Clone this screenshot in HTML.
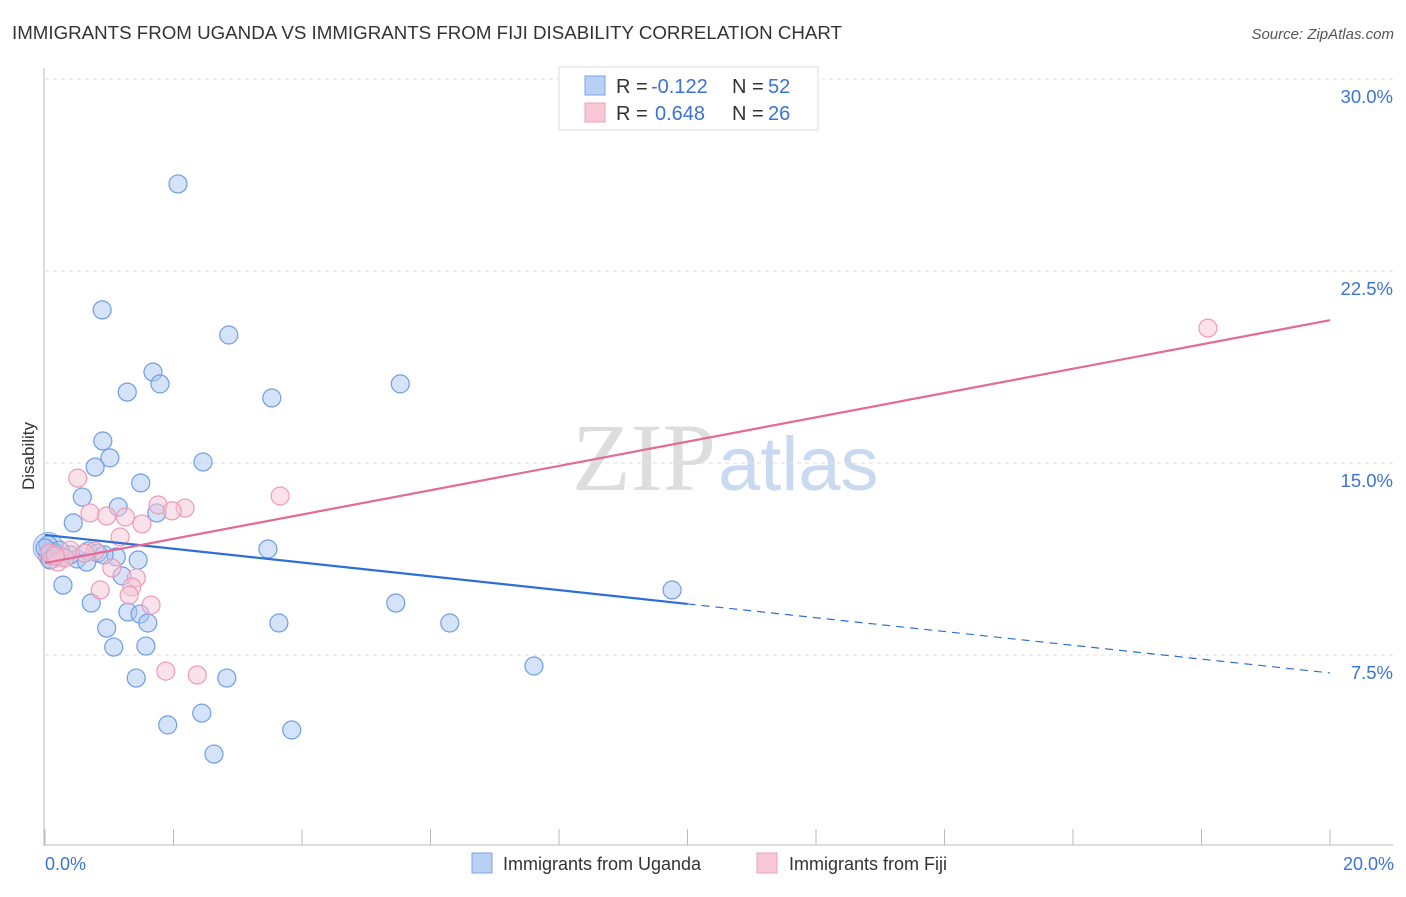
<!DOCTYPE html><html><head><meta charset="utf-8"><style>
body{margin:0;background:#fff;font-family:"Liberation Sans",sans-serif}
</style></head><body>
<svg id="c" width="1406" height="892" xmlns="http://www.w3.org/2000/svg">
<text x="12" y="39" font-size="18" fill="#333" textLength="830" lengthAdjust="spacingAndGlyphs">IMMIGRANTS FROM UGANDA VS IMMIGRANTS FROM FIJI DISABILITY CORRELATION CHART</text>
<text x="1394" y="39" font-size="15" fill="#555" font-style="italic" text-anchor="end">Source: ZipAtlas.com</text>
<text x="716" y="490" font-size="96" fill="#ddd" text-anchor="end" font-family="Liberation Serif">ZIP</text>
<text x="718" y="490" font-size="76" fill="#c9d9f0">atlas</text>
<g id="grid"></g><g id="axes"></g><g id="pts"></g><g id="lines"></g>
<text transform="translate(34,456) rotate(-90)" font-size="17" fill="#333" text-anchor="middle">Disability</text>
<text x="45" y="870" font-size="18" fill="#3b73d4">0.0%</text>
<text x="1394" y="870" font-size="18" fill="#3b73d4" text-anchor="end">20.0%</text>
<g>
<rect x="559" y="67" width="259" height="63" fill="#fff" stroke="#ddd"/>
<rect x="585" y="76" width="20" height="19" fill="#b8d0f4" stroke="#7aa3e6"/>
<rect x="585" y="103" width="20" height="19" fill="#f9c8d6" stroke="#eea0b8"/>
<text x="616" y="93" font-size="20" fill="#333">R =</text>
<text x="651" y="93" font-size="20" fill="#3b73d4">-0.122</text>
<text x="732" y="93" font-size="20" fill="#333">N =</text>
<text x="768" y="93" font-size="20" fill="#3b73d4">52</text>
<text x="616" y="120" font-size="20" fill="#333">R =</text>
<text x="655" y="120" font-size="20" fill="#3b73d4">0.648</text>
<text x="732" y="120" font-size="20" fill="#333">N =</text>
<text x="768" y="120" font-size="20" fill="#3b73d4">26</text>
</g>
<g>
<rect x="472" y="853" width="20" height="20" fill="#b8d0f4" stroke="#7aa3e6"/>
<text x="503" y="870" font-size="18" fill="#333">Immigrants from Uganda</text>
<rect x="757" y="853" width="20" height="20" fill="#f9c8d6" stroke="#eea0b8"/>
<text x="789" y="870" font-size="18" fill="#333">Immigrants from Fiji</text>
</g>
</svg>
<script>
const yTicks=[7.5,15,22.5,30];
const xTicks=[0,2,4,6,8,10,12,14,16,18,20];
const ugX=[2.07,.89,2.86,1.68,1.79,1.28,3.53,5.53,.90,1.01,.78,2.46,1.49,.58,1.14,1.74,.44,3.47,.05,.16,.26,.50,.67,.82,1.11,.65,9.76,.28,1.20,1.29,1.48,1.60,.72,.96,3.64,5.46,6.30,1.07,1.57,1.42,2.83,7.61,1.91,2.44,3.84,2.63,0,.08,.39,.23,1.45,.92];
const ugY=[25.9,20.98,20.0,18.55,18.09,17.77,17.54,18.09,15.86,15.2,14.84,15.04,14.22,13.67,13.28,13.05,12.66,11.64,11.8,11.48,11.33,11.25,11.56,11.48,11.33,11.13,10.04,10.23,10.59,9.18,9.1,8.75,9.53,8.55,8.75,9.53,8.75,7.81,7.85,6.6,6.6,7.07,4.77,5.23,4.57,3.63,11.68,11.21,11.41,11.6,11.21,11.41];
const fjX=[.51,3.66,18.1,1.76,2.18,1.98,.70,.96,1.25,1.51,1.17,.39,.78,.08,.20,.31,1.04,1.42,1.35,1.31,.86,1.65,1.88,2.37,.16,.62];
const fjY=[14.41,13.71,20.27,13.36,13.24,13.13,13.05,12.93,12.89,12.62,12.11,11.6,11.56,11.48,11.13,11.29,10.9,10.51,10.16,9.84,10.04,9.45,6.87,6.72,11.37,11.48];
const ugTrend=[12.19,6.80], fjTrend=[11.09,20.58];
const X=v=>45+v/20*1285, Y=v=>847-v/30*768;
const NS='http://www.w3.org/2000/svg';
function mk(p,t,a){const e=document.createElementNS(NS,t);for(const k in a)e.setAttribute(k,a[k]);p.appendChild(e);return e;}
const g=document.getElementById('grid'),ax=document.getElementById('axes'),pts=document.getElementById('pts'),ln=document.getElementById('lines');
yTicks.forEach(v=>{
 const l=mk(g,'line',{x1:45,x2:1393,y1:Y(v),y2:Y(v),stroke:'#ddd','stroke-dasharray':'4,4'});
 
 
 const t=mk(g,'text',{x:1393,y:Y(v)+24,'font-size':18.5,fill:'#3b73d4','text-anchor':'end'});t.textContent=v.toFixed(1)+'%';
 
 
});
mk(ax,'line',{x1:44,x2:44,y1:68,y2:846,stroke:'#bbb'});
mk(ax,'line',{x1:44,x2:1393,y1:845,y2:845,stroke:'#bbb'});
xTicks.forEach(v=>{const l=mk(ax,'line',{x1:X(v),x2:X(v),y1:829,y2:845,stroke:'#bbb'});
 
 });
mk(pts,'circle',{cx:X(0.05),cy:Y(11.7),r:15,fill:'rgba(160,190,240,0.45)',stroke:'#8ab0ea'});
mk(pts,'circle',{cx:X(0.1),cy:Y(11.4),r:13,fill:'rgba(220,160,200,0.4)',stroke:'#d49ac0'});
ugX.forEach((x,i)=>{const c=mk(pts,'circle',{cx:X(x),cy:Y(ugY[i]),r:9,fill:'rgba(170,200,245,0.5)',stroke:'#6f9de3','stroke-width':1.2});
 
 });
fjX.forEach((x,i)=>{const c=mk(pts,'circle',{cx:X(x),cy:Y(fjY[i]),r:9,fill:'rgba(248,195,212,0.5)',stroke:'#ec9bb5','stroke-width':1.2});
 
 });
const ub=v=>ugTrend[0]+(ugTrend[1]-ugTrend[0])*v/20;
let a=mk(ln,'line',{x1:X(0),y1:Y(ub(0)),x2:X(10),y2:Y(ub(10)),stroke:'#2d6fd6','stroke-width':2.2});


a=mk(ln,'line',{x1:X(10),y1:Y(ub(10)),x2:X(20),y2:Y(ub(20)),stroke:'#2d6fd6','stroke-width':1.2,'stroke-dasharray':'8,6'});


a=mk(ln,'line',{x1:X(0),y1:Y(fjTrend[0]),x2:X(20),y2:Y(fjTrend[1]),stroke:'#e46a95','stroke-width':2.2});


</script>
</body></html>
